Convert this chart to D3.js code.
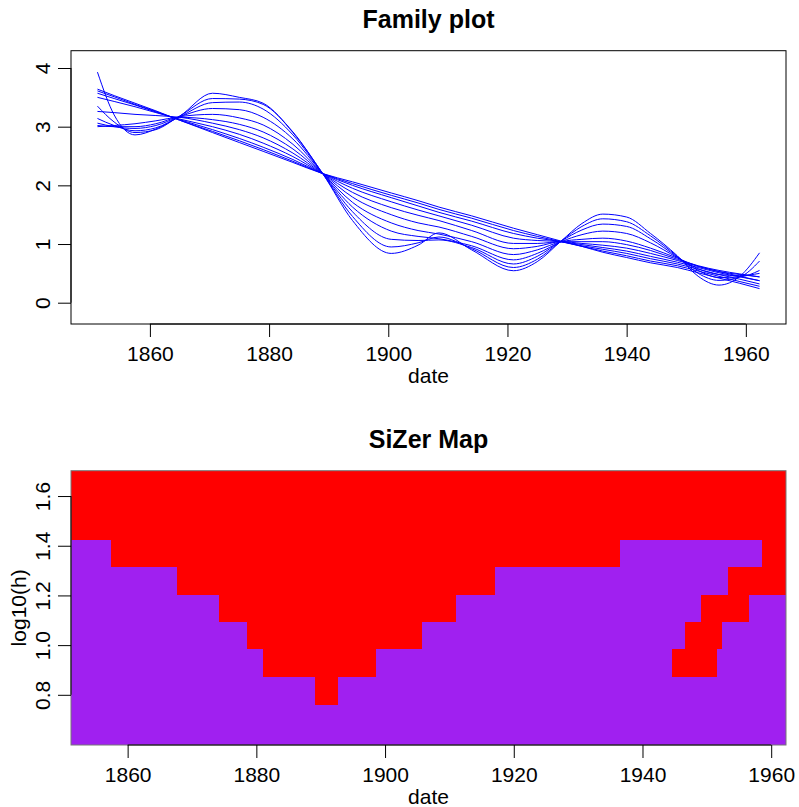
<!DOCTYPE html>
<html><head><meta charset="utf-8">
<script src="https://cdn.jsdelivr.net/npm/d3@7"></script>
<style>body{margin:0;background:#fff} text{font-family:"Liberation Sans",Arial,Helvetica,sans-serif}</style>
</head><body><svg id="c" width="799" height="807"></svg>
<script>
// ---------------- data ----------------
const years = [1851.2, 1854, 1857.5, 1861, 1865, 1870.5, 1875, 1879, 1884, 1889, 1894, 1900.5, 1905, 1908.5, 1914, 1921, 1925, 1929, 1932.5, 1936, 1940, 1944, 1948.5, 1952, 1955.5, 1959, 1962.3];
const fam0  = [3.93, 3.20, 2.86, 2.96, 3.18, 3.57, 3.50, 3.40, 2.90, 2.20, 1.40, 0.84, 0.98, 1.19, 0.90, 0.545, 0.70, 1.05, 1.35, 1.51, 1.46, 1.18, 0.80, 0.45, 0.30, 0.45, 0.85];
const fam1  = [3.35, 3.08, 2.90, 2.95, 3.18, 3.48, 3.47, 3.38, 2.91, 2.20, 1.47, 0.95, 1.02, 1.12, 0.92, 0.60, 0.74, 1.05, 1.30, 1.43, 1.38, 1.14, 0.79, 0.50, 0.38, 0.44, 0.71];
const fam2  = [3.14, 3.02, 2.93, 2.98, 3.17, 3.41, 3.42, 3.30, 2.86, 2.20, 1.55, 1.08, 1.06, 1.07, 0.94, 0.66, 0.79, 1.05, 1.24, 1.34, 1.30, 1.09, 0.78, 0.55, 0.43, 0.44, 0.55];
const fam3  = [3.06, 3.00, 2.97, 3.02, 3.17, 3.31, 3.29, 3.16, 2.79, 2.20, 1.63, 1.22, 1.13, 1.09, 0.97, 0.73, 0.84, 1.04, 1.16, 1.22, 1.18, 1.02, 0.77, 0.58, 0.48, 0.46, 0.50];
const fam4  = [3.02, 3.00, 3.00, 3.05, 3.17, 3.21, 3.15, 3.03, 2.70, 2.20, 1.71, 1.36, 1.23, 1.17, 1.04, 0.82, 0.90, 1.04, 1.08, 1.10, 1.05, 0.93, 0.76, 0.62, 0.53, 0.48, 0.44];
const fam5  = [3.00, 3.02, 3.05, 3.10, 3.16, 3.12, 3.04, 2.91, 2.62, 2.20, 1.80, 1.50, 1.36, 1.29, 1.13, 0.92, 0.96, 1.04, 1.04, 1.04, 0.99, 0.89, 0.74, 0.63, 0.55, 0.49, 0.44];
const fam6  = [3.26, 3.24, 3.21, 3.19, 3.16, 3.06, 2.95, 2.81, 2.55, 2.20, 1.88, 1.62, 1.49, 1.40, 1.23, 1.01, 1.01, 1.04, 1.01, 0.98, 0.93, 0.84, 0.72, 0.62, 0.53, 0.45, 0.375];
const fam7  = [3.50, 3.43, 3.34, 3.24, 3.13, 3.00, 2.87, 2.72, 2.49, 2.20, 1.95, 1.72, 1.58, 1.48, 1.32, 1.10, 1.06, 1.04, 0.99, 0.94, 0.88, 0.79, 0.69, 0.60, 0.51, 0.44, 0.375];
const fam8  = [3.57, 3.48, 3.37, 3.25, 3.12, 2.95, 2.80, 2.65, 2.44, 2.20, 2.00, 1.79, 1.65, 1.54, 1.39, 1.18, 1.10, 1.04, 0.97, 0.91, 0.84, 0.75, 0.66, 0.57, 0.48, 0.40, 0.32];
const fam9  = [3.61, 3.51, 3.38, 3.26, 3.11, 2.92, 2.76, 2.61, 2.41, 2.20, 2.03, 1.83, 1.70, 1.59, 1.44, 1.23, 1.13, 1.04, 0.96, 0.88, 0.80, 0.71, 0.63, 0.54, 0.45, 0.36, 0.28];
const fam10 = [3.64, 3.53, 3.40, 3.27, 3.11, 2.90, 2.73, 2.58, 2.39, 2.20, 2.06, 1.87, 1.74, 1.63, 1.48, 1.27, 1.16, 1.05, 0.96, 0.86, 0.77, 0.68, 0.60, 0.51, 0.42, 0.33, 0.24];
const families = [fam0, fam1, fam2, fam3, fam4, fam5, fam6, fam7, fam8, fam9, fam10];

const xTicks = [1860, 1880, 1900, 1920, 1940, 1960];
const famYTicks = [0, 1, 2, 3, 4];
const mapYTicks = [0.8, 1.0, 1.2, 1.4, 1.6];

// SiZer map: log10(h) row centres, and for each row the coloured runs along date
const logh = [0.598, 0.708, 0.818, 0.929, 1.040, 1.150, 1.260, 1.371, 1.481, 1.592, 1.702];
const rowRuns = [
  [[1851.2, 1962.3, "flat"]],
  [[1851.2, 1962.3, "flat"]],
  [[1851.2, 1889.11, "flat"], [1889.11, 1892.64, "dec"], [1892.64, 1962.3, "flat"]],
  [[1851.2, 1881.08, "flat"], [1881.08, 1898.59, "dec"], [1898.59, 1944.58, "flat"], [1944.58, 1951.57, "dec"], [1951.57, 1962.3, "flat"]],
  [[1851.2, 1878.50, "flat"], [1878.50, 1905.69, "dec"], [1905.69, 1946.60, "flat"], [1946.60, 1952.35, "dec"], [1952.35, 1962.3, "flat"]],
  [[1851.2, 1874.24, "flat"], [1874.24, 1911.02, "dec"], [1911.02, 1949.09, "flat"], [1949.09, 1956.59, "dec"], [1956.59, 1962.3, "flat"]],
  [[1851.2, 1867.62, "flat"], [1867.62, 1917.13, "dec"], [1917.13, 1953.28, "flat"], [1953.28, 1962.3, "dec"]],
  [[1851.2, 1857.37, "flat"], [1857.37, 1936.50, "dec"], [1936.50, 1958.56, "flat"], [1958.56, 1962.3, "dec"]],
  [[1851.2, 1962.3, "dec"]],
  [[1851.2, 1962.3, "dec"]],
  [[1851.2, 1962.3, "dec"]]
];
const stateColor = {flat: "#A020F0", dec: "#FF0000"};

// ---------------- layout ----------------
const svg = d3.select("#c");
const FS = 21, TFS = 25;
const L = 71, R = 786;

function axes(g, x, y, top, bottom, yFmt, yTicks, xlab, ylab, title) {
  const ax = g.append("g").attr("transform", `translate(0,${bottom})`)
    .call(d3.axisBottom(x).tickValues(xTicks).tickSize(13).tickFormat(d3.format("d")));
  ax.select(".domain").remove();
  ax.selectAll("line").attr("stroke", "#000");
  ax.selectAll("text").attr("y", 37).attr("dy", 0).attr("font-size", FS).attr("fill", "#000")
    .attr("font-family", '"Liberation Sans",Arial,sans-serif');
  g.append("line").attr("x1", x(xTicks[0])).attr("x2", x(xTicks[xTicks.length-1]))
    .attr("y1", bottom).attr("y2", bottom).attr("stroke", "#000");
  const ay = g.append("g").attr("transform", `translate(${L},0)`)
    .call(d3.axisLeft(y).tickValues(yTicks).tickSize(13).tickFormat(yFmt));
  ay.select(".domain").remove();
  ay.selectAll("line").attr("stroke", "#000");
  ay.selectAll("text").attr("x", null).attr("dy", null)
    .attr("transform", "translate(-21,0) rotate(-90)")
    .attr("text-anchor", "middle").attr("font-size", FS).attr("fill", "#000")
    .attr("font-family", '"Liberation Sans",Arial,sans-serif');
  g.append("line").attr("x1", L).attr("x2", L)
    .attr("y1", y(yTicks[0])).attr("y2", y(yTicks[yTicks.length-1])).attr("stroke", "#000");
  g.append("text").attr("x", (L + R) / 2).attr("y", bottom + 59).attr("text-anchor", "middle")
    .attr("font-size", FS).text(xlab);
  if (ylab) g.append("text").attr("transform", `translate(26,${(top + bottom) / 2}) rotate(-90)`)
    .attr("text-anchor", "middle").attr("font-size", FS).text(ylab);
  g.append("text").attr("x", (L + R) / 2).attr("y", top - 23).attr("text-anchor", "middle")
    .attr("font-size", TFS).attr("font-weight", "bold").text(title);
}

// ---------- top: family plot ----------
{
  const top = 50.7, bottom = 324;
  const x = d3.scaleLinear().domain([1846.76, 1966.74]).range([L, R]);
  const y = d3.scaleLinear().domain([-0.363, 4.295]).range([bottom, top]);
  const g = svg.append("g");
  const line = d3.line().x((d, i) => x(years[i])).y(d => y(d)).curve(d3.curveMonotoneX);
  g.append("g").selectAll("path").data(families).join("path")
    .attr("d", line).attr("fill", "none").attr("stroke", "#0000FF").attr("stroke-width", 1);
  g.append("rect").attr("x", L).attr("y", top).attr("width", R - L).attr("height", bottom - top)
    .attr("fill", "none").attr("stroke", "#000");
  axes(g, x, y, top, bottom, d3.format("d"), famYTicks, "date", null, "Family plot");
}

// ---------- bottom: SiZer map ----------
{
  const top = 470.7, bottom = 745;
  const x = d3.scaleLinear().domain([1851.2, 1962.3]).range([L, R]);
  const y = d3.scaleLinear().domain([0.598, 1.702]).range([bottom, top]);
  const g = svg.append("g");
  g.append("clipPath").attr("id", "mapclip").append("rect")
    .attr("x", L).attr("y", top).attr("width", R - L).attr("height", bottom - top);
  const step = (logh[logh.length-1] - logh[0]) / (logh.length - 1);
  const cells = [];
  rowRuns.forEach((runs, r) => runs.forEach(([a, b, s]) => cells.push({a, b, s, lo: logh[r] - step/2, hi: logh[r] + step/2})));
  g.append("g").attr("clip-path", "url(#mapclip)").selectAll("rect").data(cells).join("rect")
    .attr("x", d => x(d.a)).attr("width", d => x(d.b) - x(d.a) + 0.5)
    .attr("y", d => y(d.hi)).attr("height", d => y(d.lo) - y(d.hi) + 0.5)
    .attr("fill", d => stateColor[d.s]).attr("shape-rendering", "crispEdges");
  g.append("rect").attr("x", L).attr("y", top).attr("width", R - L).attr("height", bottom - top)
    .attr("fill", "none").attr("stroke", "#777");
  axes(g, x, y, top, bottom, d3.format(".1f"), mapYTicks, "date", "log10(h)", "SiZer Map");
}
</script></body></html>
